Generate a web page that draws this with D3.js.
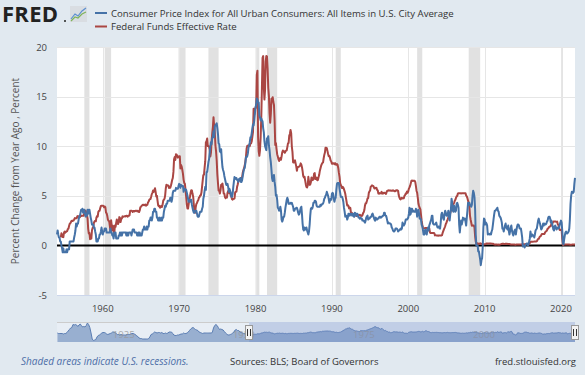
<!DOCTYPE html>
<meta charset="utf-8">
<style>
body { margin: 0; background: #e1e9f0; }
text { font-family: "Open Sans", sans-serif; }
</style>
<svg width="585" height="375"></svg>
<script src="https://d3js.org/d3.v7.min.js"></script>
<script>

// CPI, percent change from year ago, monthly from 1954-01
var cpiStart = [1954, 0];
var cpi = [
  1.1, 1.5, 1.1, 0.8, 0.8, 0.4, 0.4, 0.0, -0.3, -0.7, -0.3, -0.7,
  -0.7, -0.7, -0.7, -0.4, -0.7, -0.4, -0.4, -0.4, 0.4, 0.4, 0.4, 0.4,
  0.4, 0.4, 0.4, 0.8, 1.1, 1.5, 2.2, 1.9, 2.2, 2.2, 2.6, 2.9,
  3.0, 3.3, 3.6, 3.6, 3.7, 3.3, 3.3, 3.6, 3.2, 2.9, 3.2, 3.0,
  3.6, 3.2, 3.6, 3.6, 3.2, 2.8, 2.5, 2.1, 2.1, 2.1, 1.8, 1.8,
  1.4, 1.1, 0.4, 0.4, 0.4, 0.7, 0.7, 1.1, 1.1, 1.4, 1.8, 1.4,
  1.1, 1.4, 1.4, 1.7, 1.7, 1.7, 1.3, 1.3, 1.3, 1.3, 1.3, 1.3,
  1.7, 1.3, 1.3, 1.0, 1.0, 0.7, 1.3, 1.0, 1.3, 0.7, 0.7, 0.7,
  0.7, 1.0, 1.0, 1.3, 1.0, 1.3, 1.0, 1.3, 1.3, 1.3, 1.3, 1.3,
  1.3, 1.0, 1.3, 1.0, 1.0, 1.3, 1.3, 1.3, 1.3, 1.0, 1.3, 1.6,
  1.6, 1.6, 1.3, 1.3, 1.3, 1.3, 1.0, 1.0, 1.3, 1.0, 1.3, 1.0,
  1.0, 1.0, 1.3, 1.6, 1.6, 1.9, 1.6, 1.6, 1.6, 1.9, 1.6, 1.9,
  1.9, 2.5, 2.5, 2.8, 2.8, 2.5, 2.8, 3.4, 3.4, 3.7, 3.7, 3.4,
  3.4, 2.8, 2.8, 2.5, 2.5, 2.8, 2.5, 2.5, 2.8, 2.5, 2.8, 2.8,
  3.4, 3.7, 4.0, 3.9, 4.2, 4.2, 4.5, 4.5, 4.5, 4.5, 4.8, 4.8,
  4.4, 4.7, 5.3, 5.5, 5.5, 5.5, 5.5, 5.8, 5.7, 5.7, 5.7, 6.0,
  6.2, 6.1, 5.8, 6.1, 6.0, 6.0, 6.0, 5.4, 5.7, 5.7, 5.6, 5.6,
  5.3, 5.0, 4.7, 4.4, 4.4, 4.6, 4.4, 4.6, 4.1, 3.8, 3.5, 3.3,
  3.3, 3.5, 3.5, 3.5, 3.2, 2.9, 2.9, 2.9, 3.2, 3.4, 3.4, 3.4,
  3.7, 3.9, 4.7, 5.0, 5.5, 5.9, 5.6, 7.4, 7.4, 7.9, 8.4, 8.7,
  9.4, 10.0, 10.4, 10.2, 10.8, 11.0, 11.5, 10.9, 12.0, 12.1, 12.2, 12.3,
  11.8, 11.2, 10.3, 10.2, 9.5, 9.4, 9.7, 8.7, 7.9, 7.6, 7.4, 7.0,
  6.7, 6.4, 6.1, 6.1, 6.2, 5.9, 5.4, 5.7, 5.5, 5.3, 4.9, 4.9,
  5.2, 5.9, 6.4, 6.9, 6.7, 6.8, 6.8, 6.6, 6.6, 6.4, 6.7, 6.7,
  6.8, 6.4, 6.4, 6.6, 7.0, 7.4, 7.7, 7.8, 8.3, 8.9, 8.9, 9.0,
  9.3, 9.9, 10.1, 10.4, 10.9, 10.9, 11.3, 11.8, 12.2, 12.1, 12.6, 13.3,
  13.9, 14.2, 14.8, 14.7, 14.4, 14.4, 13.1, 12.9, 12.6, 12.8, 12.6, 12.5,
  11.8, 11.4, 10.5, 10.0, 9.8, 9.6, 10.8, 10.8, 11.0, 10.1, 9.6, 8.9,
  8.4, 7.6, 6.8, 6.5, 6.7, 7.1, 6.4, 5.9, 5.0, 5.1, 4.6, 3.8,
  3.7, 3.5, 3.6, 3.9, 3.5, 2.6, 2.4, 2.6, 2.9, 2.9, 3.3, 3.8,
  4.2, 4.6, 4.8, 4.6, 4.2, 4.2, 4.2, 4.3, 4.2, 4.3, 4.1, 3.9,
  3.5, 3.5, 3.7, 3.7, 3.8, 3.8, 3.6, 3.3, 3.1, 3.2, 3.5, 3.8,
  3.9, 3.1, 2.2, 1.6, 1.5, 1.8, 1.6, 1.6, 1.8, 1.5, 1.3, 1.1,
  1.4, 2.1, 3.0, 3.7, 3.8, 3.7, 3.9, 4.3, 4.3, 4.5, 4.5, 4.4,
  4.0, 3.9, 3.9, 3.9, 3.9, 3.9, 4.1, 4.0, 4.1, 4.2, 4.2, 4.4,
  4.7, 4.8, 5.0, 5.1, 5.4, 5.2, 5.0, 4.7, 4.3, 4.5, 4.7, 4.6,
  5.2, 5.3, 5.2, 4.7, 4.4, 4.7, 4.8, 5.6, 6.2, 6.3, 6.3, 6.3,
  5.7, 5.3, 4.9, 4.9, 4.9, 4.7, 4.4, 3.8, 3.4, 2.9, 3.0, 3.0,
  2.6, 2.8, 3.2, 3.2, 3.0, 3.1, 3.2, 3.1, 3.0, 3.2, 3.0, 2.9,
  3.3, 3.2, 3.0, 3.2, 3.2, 3.0, 2.8, 2.8, 2.7, 2.8, 2.7, 2.7,
  2.5, 2.5, 2.5, 2.4, 2.3, 2.5, 2.8, 2.9, 3.0, 2.6, 2.7, 2.7,
  2.8, 2.9, 2.9, 3.1, 3.2, 3.0, 2.8, 2.6, 2.5, 2.8, 2.6, 2.6,
  2.7, 2.7, 2.8, 2.9, 2.9, 2.8, 2.9, 2.9, 3.0, 3.0, 3.3, 3.3,
  3.0, 3.0, 2.8, 2.5, 2.2, 2.3, 2.2, 2.2, 2.2, 2.1, 1.8, 1.7,
  1.5, 1.4, 1.4, 1.5, 1.7, 1.7, 1.7, 1.6, 1.4, 1.5, 1.5, 1.6,
  1.7, 1.6, 1.7, 2.3, 2.1, 2.0, 2.1, 2.3, 2.6, 2.6, 2.6, 2.7,
  2.8, 3.2, 3.8, 3.1, 3.2, 3.7, 3.7, 3.4, 3.5, 3.4, 3.4, 3.4,
  3.7, 3.5, 2.9, 3.3, 3.6, 3.2, 2.7, 2.7, 2.6, 2.1, 1.9, 1.6,
  1.1, 1.1, 1.5, 1.6, 1.2, 1.1, 1.5, 1.8, 1.5, 2.0, 2.2, 2.4,
  2.6, 3.0, 3.0, 2.2, 2.1, 2.1, 2.1, 2.2, 2.3, 2.0, 1.8, 1.9,
  1.9, 1.7, 1.7, 2.3, 3.1, 3.3, 3.0, 2.7, 2.6, 3.2, 3.5, 3.3,
  3.0, 3.0, 3.1, 3.5, 2.8, 2.5, 3.1, 3.6, 4.7, 4.3, 3.5, 3.4,
  4.0, 3.6, 3.4, 3.5, 4.2, 4.3, 4.1, 3.8, 2.1, 1.3, 2.0, 2.5,
  2.1, 2.4, 2.8, 2.6, 2.7, 2.7, 2.4, 2.0, 2.8, 3.5, 4.3, 4.1,
  4.3, 4.1, 4.0, 3.9, 4.1, 5.0, 5.5, 5.3, 4.9, 3.7, 1.1, 0.0,
  0.0, 0.0, -0.6, -0.6, -1.0, -1.4, -2.0, -1.5, -1.3, -0.2, 1.8, 2.7,
  2.6, 2.1, 2.3, 2.2, 2.0, 1.1, 1.2, 1.1, 1.1, 1.2, 1.1, 1.4,
  1.6, 2.1, 2.6, 3.1, 3.5, 3.5, 3.6, 3.7, 3.8, 3.5, 3.4, 3.0,
  2.9, 2.8, 2.6, 2.3, 1.7, 1.7, 1.4, 1.7, 2.0, 2.2, 1.8, 1.7,
  1.6, 2.0, 1.5, 1.1, 1.4, 1.8, 2.0, 1.5, 1.2, 1.0, 1.2, 1.5,
  1.6, 1.1, 1.5, 1.9, 2.1, 2.1, 2.0, 1.7, 1.7, 1.7, 1.3, 0.8,
  -0.1, 0.0, -0.1, -0.2, 0.0, 0.1, 0.2, 0.2, 0.0, 0.1, 0.4, 0.7,
  1.4, 1.0, 0.9, 1.1, 1.0, 1.0, 0.8, 1.1, 1.5, 1.6, 1.7, 2.1,
  2.5, 2.7, 2.4, 2.2, 1.9, 1.6, 1.7, 1.9, 2.2, 2.0, 2.2, 2.1,
  2.1, 2.2, 2.4, 2.5, 2.8, 2.9, 2.9, 2.7, 2.3, 2.5, 2.2, 1.9,
  1.6, 1.5, 1.9, 2.0, 1.8, 1.6, 1.8, 1.7, 1.7, 1.8, 2.1, 2.3,
  2.5, 2.3, 1.5, 0.3, 0.1, 0.6, 1.0, 1.3, 1.4, 1.2, 1.2, 1.3,
  1.4, 1.7, 2.6, 4.2, 5.0, 5.4, 5.4, 5.3, 5.4, 6.2, 6.8
];

// Federal funds effective rate, monthly from 1954-07
var fedStart = [1954, 6];
var fed = [
  0.80, 1.22, 1.07, 0.85, 0.83, 1.28,
  1.39, 1.29, 1.35, 1.43, 1.43, 1.64, 1.68, 1.96, 2.18, 2.24, 2.35, 2.48,
  2.45, 2.50, 2.50, 2.62, 2.75, 2.71, 2.75, 2.73, 2.95, 2.96, 2.88, 2.94,
  2.84, 3.00, 2.96, 3.00, 3.00, 3.00, 2.99, 3.24, 3.47, 3.50, 3.28, 2.98,
  2.72, 1.67, 1.20, 1.26, 0.63, 0.93, 0.68, 1.53, 1.76, 1.80, 2.27, 2.42,
  2.48, 2.43, 2.80, 2.96, 2.90, 3.39, 3.47, 3.50, 3.76, 3.98, 4.00, 3.99,
  3.99, 3.97, 3.84, 3.92, 3.85, 3.32, 3.23, 2.98, 2.60, 2.47, 2.44, 1.98,
  1.45, 2.54, 2.02, 1.49, 1.98, 1.73, 1.17, 2.00, 1.88, 2.26, 2.61, 2.33,
  2.15, 2.37, 2.85, 2.78, 2.36, 2.68, 2.71, 2.93, 2.90, 2.90, 2.94, 2.93,
  2.92, 3.00, 2.98, 2.90, 3.00, 2.99, 3.02, 3.49, 3.48, 3.50, 3.48, 3.38,
  3.48, 3.48, 3.43, 3.47, 3.50, 3.50, 3.42, 3.50, 3.45, 3.36, 3.52, 3.85,
  3.90, 3.98, 4.04, 4.09, 4.10, 4.04, 4.09, 4.12, 4.01, 4.08, 4.10, 4.32,
  4.42, 4.60, 4.65, 4.67, 4.90, 5.17, 5.30, 5.53, 5.40, 5.53, 5.76, 5.40,
  4.94, 5.00, 4.53, 4.05, 3.94, 3.98, 3.79, 3.90, 3.99, 3.88, 4.13, 4.51,
  4.61, 4.71, 5.05, 5.76, 6.11, 6.07, 6.03, 6.03, 5.78, 5.91, 5.82, 6.02,
  6.30, 6.61, 6.79, 7.41, 8.67, 8.90, 8.61, 9.19, 9.15, 9.00, 8.85, 8.97,
  8.98, 8.98, 7.76, 8.10, 7.94, 7.60, 7.21, 6.61, 6.29, 6.20, 5.60, 4.90,
  4.14, 3.72, 3.71, 4.16, 4.63, 4.91, 5.31, 5.57, 5.55, 5.20, 4.91, 4.14,
  3.50, 3.29, 3.83, 4.17, 4.27, 4.46, 4.55, 4.80, 4.87, 5.04, 5.06, 5.33,
  5.94, 6.58, 7.09, 7.12, 7.84, 8.49, 10.40, 10.50, 10.78, 10.01, 10.03, 9.95,
  9.65, 8.97, 9.35, 10.51, 11.31, 11.93, 12.92, 12.01, 11.34, 10.06, 9.45, 8.53,
  7.13, 6.24, 5.54, 5.49, 5.22, 5.55, 6.10, 6.14, 6.24, 5.82, 5.22, 5.20,
  4.87, 4.77, 4.84, 4.82, 5.29, 5.48, 5.31, 5.29, 5.25, 5.02, 4.95, 4.65,
  4.61, 4.68, 4.69, 4.73, 5.35, 5.39, 5.42, 5.90, 6.14, 6.47, 6.51, 6.56,
  6.70, 6.78, 6.79, 6.89, 7.36, 7.60, 7.81, 8.04, 8.45, 8.96, 9.76, 10.03,
  10.07, 10.06, 10.09, 10.01, 10.24, 10.29, 10.47, 10.94, 11.43, 13.77, 13.18, 13.78,
  13.82, 14.13, 17.19, 17.61, 10.98, 9.47, 9.03, 9.61, 10.87, 12.81, 15.85, 18.90,
  19.08, 15.93, 14.70, 15.72, 18.52, 19.10, 19.04, 17.82, 15.87, 15.08, 13.31, 12.37,
  13.22, 14.78, 14.68, 14.94, 14.45, 14.15, 12.59, 10.12, 10.31, 9.71, 9.20, 8.95,
  8.68, 8.51, 8.77, 8.80, 8.63, 8.98, 9.37, 9.56, 9.45, 9.48, 9.34, 9.47,
  9.56, 9.59, 9.91, 10.29, 10.32, 11.06, 11.23, 11.64, 11.30, 9.99, 9.43, 8.38,
  8.35, 8.50, 8.58, 8.27, 7.97, 7.53, 7.88, 7.90, 7.92, 7.99, 8.05, 8.27,
  8.14, 7.86, 7.48, 6.99, 6.85, 6.92, 6.56, 6.17, 5.89, 5.85, 6.04, 6.91,
  6.43, 6.10, 6.13, 6.37, 6.85, 6.73, 6.58, 6.73, 7.22, 7.29, 6.69, 6.77,
  6.83, 6.58, 6.58, 6.87, 7.09, 7.51, 7.75, 8.01, 8.19, 8.30, 8.35, 8.76,
  9.12, 9.36, 9.85, 9.84, 9.81, 9.53, 9.24, 8.99, 9.02, 8.84, 8.55, 8.45,
  8.23, 8.24, 8.28, 8.26, 8.18, 8.29, 8.15, 8.13, 8.20, 8.11, 7.81, 7.31,
  6.91, 6.25, 6.12, 5.91, 5.78, 5.90, 5.82, 5.66, 5.45, 5.21, 4.81, 4.43,
  4.03, 4.06, 3.98, 3.73, 3.82, 3.76, 3.25, 3.30, 3.22, 3.10, 3.09, 2.92,
  3.02, 3.03, 3.07, 2.96, 3.00, 3.04, 3.06, 3.03, 3.09, 2.99, 3.02, 2.96,
  3.05, 3.25, 3.34, 3.56, 4.01, 4.25, 4.26, 4.47, 4.73, 4.76, 5.29, 5.45,
  5.53, 5.92, 5.98, 6.05, 6.01, 6.00, 5.85, 5.74, 5.80, 5.76, 5.80, 5.60,
  5.56, 5.22, 5.31, 5.22, 5.24, 5.27, 5.40, 5.22, 5.30, 5.24, 5.31, 5.29,
  5.25, 5.19, 5.39, 5.51, 5.50, 5.56, 5.52, 5.54, 5.54, 5.50, 5.52, 5.50,
  5.56, 5.51, 5.49, 5.45, 5.49, 5.56, 5.54, 5.55, 5.51, 5.07, 4.83, 4.68,
  4.63, 4.76, 4.81, 4.74, 4.74, 4.76, 4.99, 5.07, 5.22, 5.20, 5.42, 5.30,
  5.45, 5.73, 5.85, 6.02, 6.27, 6.53, 6.54, 6.50, 6.52, 6.51, 6.51, 6.40,
  5.98, 5.49, 5.31, 4.80, 4.21, 3.97, 3.77, 3.65, 3.07, 2.49, 2.09, 1.82,
  1.73, 1.74, 1.73, 1.75, 1.75, 1.75, 1.73, 1.74, 1.75, 1.75, 1.34, 1.24,
  1.24, 1.26, 1.25, 1.26, 1.26, 1.22, 1.01, 1.03, 1.01, 1.01, 1.00, 0.98,
  1.00, 1.01, 1.00, 1.00, 1.00, 1.03, 1.26, 1.43, 1.61, 1.76, 1.93, 2.16,
  2.28, 2.50, 2.63, 2.79, 3.00, 3.04, 3.26, 3.50, 3.62, 3.78, 4.00, 4.16,
  4.29, 4.49, 4.59, 4.79, 4.94, 4.99, 5.24, 5.25, 5.25, 5.25, 5.25, 5.24,
  5.25, 5.26, 5.26, 5.25, 5.25, 5.25, 5.26, 5.02, 4.94, 4.76, 4.49, 4.24,
  3.94, 2.98, 2.61, 2.28, 1.98, 2.00, 2.01, 2.00, 1.81, 0.97, 0.39, 0.16,
  0.15, 0.22, 0.18, 0.15, 0.18, 0.21, 0.16, 0.16, 0.15, 0.12, 0.12, 0.12,
  0.11, 0.13, 0.16, 0.20, 0.20, 0.18, 0.18, 0.19, 0.19, 0.19, 0.19, 0.18,
  0.17, 0.16, 0.14, 0.10, 0.09, 0.09, 0.07, 0.10, 0.08, 0.07, 0.08, 0.07,
  0.08, 0.10, 0.13, 0.14, 0.16, 0.16, 0.16, 0.13, 0.14, 0.16, 0.16, 0.16,
  0.14, 0.15, 0.14, 0.15, 0.11, 0.09, 0.09, 0.08, 0.08, 0.09, 0.08, 0.09,
  0.07, 0.07, 0.08, 0.09, 0.09, 0.10, 0.09, 0.09, 0.09, 0.09, 0.09, 0.12,
  0.11, 0.11, 0.11, 0.12, 0.12, 0.13, 0.13, 0.14, 0.14, 0.12, 0.12, 0.24,
  0.34, 0.38, 0.36, 0.37, 0.37, 0.38, 0.39, 0.40, 0.40, 0.40, 0.41, 0.54,
  0.65, 0.66, 0.79, 0.90, 0.91, 1.04, 1.15, 1.16, 1.15, 1.15, 1.16, 1.30,
  1.41, 1.42, 1.51, 1.69, 1.70, 1.82, 1.91, 1.91, 1.95, 2.19, 2.20, 2.27,
  2.40, 2.40, 2.41, 2.42, 2.39, 2.38, 2.40, 2.13, 2.04, 1.83, 1.55, 1.55,
  1.55, 1.58, 0.65, 0.05, 0.05, 0.08, 0.09, 0.10, 0.09, 0.09, 0.09, 0.09,
  0.09, 0.08, 0.07, 0.07, 0.06, 0.08, 0.10, 0.09, 0.08, 0.08, 0.08
];

// CPI change from year ago before 1954, quarterly from 1914 (navigator only)
var cpiEarlyStart = [1914, 1];
var cpiEarly = [
  2, 1, 1, 1,   1, 0, 1, 1,   3, 6, 9, 12,   13, 19, 18, 19,
  18, 15, 18, 20,   17, 14, 15, 14,   17, 22, 19, 13,   2, -10, -13, -12,
  -11, -6, -3, -2,   0, 2, 3, 3,   2, 0, -1, 0,   1, 2, 4, 4,
  3, 1, -1, -1,   -2, -1, -2, -2,   -2, -2, -1, -1,   -1, 0, 1, 1,
  0, -1, -4, -5,   -8, -9, -9, -10,   -10, -10, -10, -10,   -9, -6, -1, 0,
  2, 4, 3, 2,   3, 3, 2, 3,   1, 1, 2, 1,   2, 4, 4, 4,
  1, -2, -3, -3,   -2, -2, -1, 0,   0, 2, 1, 1,   2, 4, 7, 10,
  12, 13, 11, 9,   8, 7, 4, 3,   2, 1, 2, 2,   2, 2, 2, 2,
  2, 3, 12, 17,   19, 17, 13, 9,   10, 9, 8, 5,   2, 0, -2, -2,
  -1, 0, 2, 4,   8, 9, 7, 7,   4, 3, 2, 1,   1, 1, 1, 1
];

// NBER recessions [start, end]
var recessions = [
  ["1957-08", "1958-04"], ["1960-04", "1961-02"], ["1969-12", "1970-11"],
  ["1973-11", "1975-03"], ["1980-01", "1980-07"], ["1981-07", "1982-11"],
  ["1990-07", "1991-03"], ["2001-03", "2001-11"], ["2007-12", "2009-06"],
  ["2020-02", "2020-04"]
];

var yTicks = [-5, 0, 5, 10, 15, 20];
var xTicks = [1960, 1970, 1980, 1990, 2000, 2010, 2020];
var navTicks = [1925, 1950, 1975, 2000];

var cpiName = "Consumer Price Index for All Urban Consumers: All Items in U.S. City Average";
var fedName = "Federal Funds Effective Rate";

function monthly(start, vals, step) {
  return vals.map(function(v, i) {
    return { date: new Date(start[0], start[1] + i * step, 1), value: v };
  });
}

var cpiData = monthly(cpiStart, cpi, 1);
var fedData = monthly(fedStart, fed, 1);
var navData = monthly(cpiEarlyStart, cpiEarly, 3).concat(cpiData);

var svg = d3.select("svg");
var blue = "#4572a7", red = "#aa4643";

var plotL = 57, plotR = 575, plotT = 47, plotB = 295;

var x = d3.scaleTime()
  .domain([new Date(1954, 0, 1), new Date(2021, 10, 1)])
  .range([plotL, plotR]);
var y = d3.scaleLinear().domain([-5, 20]).range([plotB, plotT]);

// plot background
svg.append("rect")
  .attr("x", plotL).attr("y", plotT)
  .attr("width", plotR - plotL).attr("height", plotB - plotT)
  .attr("fill", "#fff");

// recessions
var parse = d3.timeParse("%Y-%m");
svg.append("g").selectAll("rect")
  .data(recessions)
  .join("rect")
  .attr("x", function(d) { return x(parse(d[0])); })
  .attr("width", function(d) { return x(parse(d[1])) - x(parse(d[0])); })
  .attr("y", plotT).attr("height", plotB - plotT)
  .attr("fill", "#e1e1e1");

// grid
var grid = svg.append("g").attr("stroke", "#e6e6e6").attr("stroke-width", 1);
grid.selectAll(".hg").data(yTicks).join("line")
  .attr("class", "hg")
  .attr("x1", plotL).attr("x2", plotR)
  .attr("y1", function(d) { return Math.round(y(d)) + 0.5; })
  .attr("y2", function(d) { return Math.round(y(d)) + 0.5; });
grid.selectAll(".vg").data(xTicks).join("line")
  .attr("class", "vg")
  .attr("y1", plotT).attr("y2", plotB)
  .attr("x1", function(d) { return Math.round(x(new Date(d, 0, 1))) + 0.5; })
  .attr("x2", function(d) { return Math.round(x(new Date(d, 0, 1))) + 0.5; });

svg.append("line")
  .attr("x1", plotL).attr("x2", plotR)
  .attr("y1", plotB + 0.5).attr("y2", plotB + 0.5)
  .attr("stroke", "#ccd6eb");

// y axis labels
svg.append("g").selectAll("text").data(yTicks).join("text")
  .attr("x", 47)
  .attr("y", function(d) { return y(d) + 3.5; })
  .attr("text-anchor", "end")
  .attr("font-size", 9.5)
  .attr("fill", "#444")
  .text(function(d) { return d; });

// x axis labels
svg.append("g").selectAll("text").data(xTicks).join("text")
  .attr("x", function(d) { return x(new Date(d, 0, 1)); })
  .attr("y", 312)
  .attr("text-anchor", "middle")
  .attr("font-size", 9.5)
  .attr("fill", "#444")
  .text(function(d) { return d; });

// y title
svg.append("text")
  .attr("transform", "translate(19," + ((plotT + plotB) / 2) + ") rotate(-90)")
  .attr("text-anchor", "middle")
  .attr("font-size", 10)
  .attr("fill", "#555")
  .text("Percent Change from Year Ago , Percent");

// zero line
svg.append("line")
  .attr("x1", plotL).attr("x2", plotR)
  .attr("y1", y(0)).attr("y2", y(0))
  .attr("stroke", "#000").attr("stroke-width", 2);

// series
var line = d3.line()
  .x(function(d) { return x(d.date); })
  .y(function(d) { return y(d.value); });

svg.append("path").datum(fedData)
  .attr("d", line)
  .attr("fill", "none").attr("stroke", red).attr("stroke-width", 2)
  .attr("stroke-linejoin", "round");
svg.append("path").datum(cpiData)
  .attr("d", line)
  .attr("fill", "none").attr("stroke", blue).attr("stroke-width", 2)
  .attr("stroke-linejoin", "round");

// navigator
var navT = 322, navB = 342;
var nx = d3.scaleTime()
  .domain([new Date(1914, 0, 1), new Date(2021, 10, 1)])
  .range([plotL, plotR]);
var ny = d3.scaleLinear().domain([-16, 24]).range([navB, navT]);

svg.append("rect")
  .attr("x", plotL).attr("y", navT)
  .attr("width", plotR - plotL).attr("height", navB - navT)
  .attr("fill", "#e8eef5");

svg.append("path").datum(navData)
  .attr("d", d3.area()
    .x(function(d) { return nx(d.date); })
    .y0(navB)
    .y1(function(d) { return ny(d.value); }))
  .attr("fill", "#98afd0");
svg.append("path").datum(navData)
  .attr("d", d3.line()
    .x(function(d) { return nx(d.date); })
    .y(function(d) { return ny(d.value); }))
  .attr("fill", "none").attr("stroke", "#5a7db3").attr("stroke-width", 1);

svg.append("g").selectAll("text").data(navTicks).join("text")
  .attr("x", function(d) { return nx(new Date(d, 0, 1)) + 3; })
  .attr("y", 338)
  .attr("font-size", 9.5)
  .attr("fill", "#999")
  .attr("opacity", 0.8)
  .text(function(d) { return d; });

var selStart = nx(x.domain()[0]), selEnd = nx(x.domain()[1]);
svg.append("line")
  .attr("x1", plotL).attr("x2", selStart)
  .attr("y1", navT + 0.5).attr("y2", navT + 0.5)
  .attr("stroke", "#ccc");
svg.append("rect")
  .attr("x", selStart).attr("y", navT)
  .attr("width", selEnd - selStart).attr("height", navB - navT)
  .attr("fill", "rgba(102,133,194,0.3)");

var handles = svg.append("g").selectAll("g").data([selStart, selEnd]).join("g")
  .attr("transform", function(d) { return "translate(" + Math.round(d) + "," + (navT + 3) + ")"; });
handles.append("rect")
  .attr("x", -3.5).attr("y", 0.5).attr("width", 7).attr("height", 14)
  .attr("fill", "#f2f2f2").attr("stroke", "#999");
handles.append("path")
  .attr("d", "M-1.5,4V11M1.5,4V11")
  .attr("stroke", "#333").attr("stroke-width", 1);

// header: logo
svg.append("text")
  .attr("x", 2).attr("y", 22)
  .attr("font-family", "'DejaVu Sans', sans-serif")
  .attr("font-weight", "bold")
  .attr("font-size", 22)
  .attr("letter-spacing", 0.3)
  .attr("fill", "#222")
  .text("FRED");
svg.append("circle").attr("cx", 65).attr("cy", 21).attr("r", 1).attr("fill", "#222");
var icon = svg.append("g").attr("transform", "translate(70,6)");
icon.append("rect").attr("width", 17).attr("height", 16).attr("fill", "#d9dde2");
icon.append("path").attr("d", "M1,13L5,8L8,10L12,5L16,2")
  .attr("fill", "none").attr("stroke", "#5b8fd0").attr("stroke-width", 1.2);
icon.append("path").attr("d", "M1,15L5,11L8,12L12,8L16,6")
  .attr("fill", "none").attr("stroke", "#7fb35a").attr("stroke-width", 1.2);

// legend
var legend = svg.append("g").selectAll("g")
  .data([[cpiName, blue], [fedName, red]])
  .join("g")
  .attr("transform", function(d, i) { return "translate(95," + (13 + i * 13.5) + ")"; });
legend.append("line")
  .attr("x1", 0).attr("x2", 12)
  .attr("stroke", function(d) { return d[1]; }).attr("stroke-width", 2);
legend.append("text")
  .attr("x", 16).attr("y", 3.5)
  .attr("font-size", 9.6)
  .attr("fill", "#333")
  .text(function(d) { return d[0]; });

// footer
svg.append("text")
  .attr("x", 21).attr("y", 365)
  .attr("font-size", 10)
  .attr("font-style", "italic")
  .attr("fill", "#4e6fa8")
  .text("Shaded areas indicate U.S. recessions.");
svg.append("text")
  .attr("x", 230).attr("y", 365)
  .attr("font-size", 9.5)
  .attr("fill", "#333")
  .text("Sources: BLS; Board of Governors");
svg.append("text")
  .attr("x", 576).attr("y", 365)
  .attr("text-anchor", "end")
  .attr("font-size", 9.5)
  .attr("fill", "#333")
  .text("fred.stlouisfed.org");

</script>
